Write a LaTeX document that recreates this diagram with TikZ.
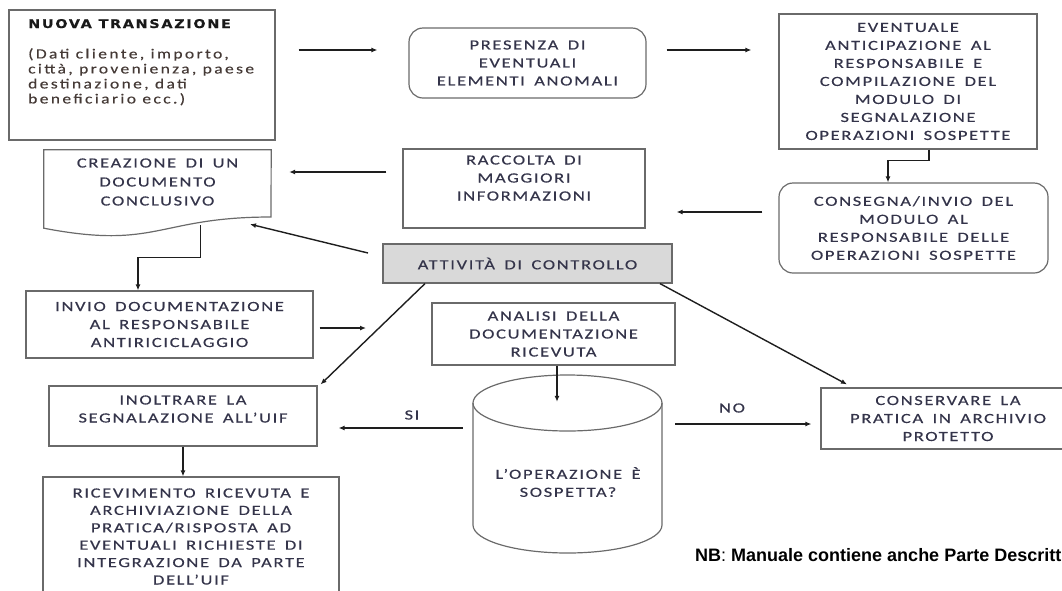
\documentclass[tikz,border=0pt]{standalone}
\usepackage{fontspec}
\usetikzlibrary{arrows.meta,calc}

% Fonts: wide, tracked Calibri-like face for the boxes
\newfontfamily\boxfont[FakeStretch=1.32,LetterSpace=12,WordSpace=1.6,FakeBold=0.4]{Carlito}
\newfontfamily\bodyfont[FakeStretch=1.25,LetterSpace=17,FakeBold=0.4]{Carlito}
\newfontfamily\titlefont[FakeStretch=1.2,LetterSpace=14,FakeBold=0.3]{DejaVu Sans}
\newfontfamily\nbfont{Liberation Sans}

\definecolor{txt}{HTML}{34344A}
\definecolor{bodytxt}{HTML}{453A36}
\definecolor{edge}{HTML}{6A6A6A}
\definecolor{wirecol}{HTML}{1E1E1E}
\definecolor{shade}{HTML}{D9D9D9}

\tikzset{
  box/.style={draw=edge, line width=1.2pt, rectangle, inner sep=0pt, align=center,
    text=txt, font=\boxfont\fontsize{14}{18}\selectfont},
  rbox/.style={box, rounded corners=14pt},
  lbl/.style={inner sep=0pt, align=center, text=txt, font=\boxfont\fontsize{14}{18}\selectfont},
  outline/.style={draw=edge, line width=1.2pt},
  conn/.style={draw=wirecol, line width=1.4pt, -{Latex[length=6pt,width=5pt]}},
}

\begin{document}
\begin{tikzpicture}[x=1pt, y=-1pt]
\useasboundingbox (0,0) rectangle (1062,590);
\clip (0,0) rectangle (1062,590);

% ---- first row -------------------------------------------------------
\node[box, minimum width=266pt, minimum height=130pt] (nuova) at (142,75) {};
\node[anchor=base west, inner sep=0pt, text=black!90,
      font=\titlefont\bfseries\fontsize{12}{12}\selectfont] (nuovaT) at (28,28) {NUOVA TRANSAZIONE};
\node[anchor=north west, inner sep=0pt, align=left, text=bodytxt,
      font=\bodyfont\fontsize{14}{15}\selectfont] (nuovaB) at (28,48)
      {(Dati cliente, importo,\\città, provenienza, paese\\destinazione, dati\\beneficiario ecc.)};

\node[rbox, minimum width=237pt, minimum height=70pt] (presenza) at (527.5,63)
  {PRESENZA DI\\EVENTUALI\\ELEMENTI ANOMALI};

\node[box, minimum width=258pt, minimum height=135pt] (anticip) at (908,81.5)
  {EVENTUALE\\ANTICIPAZIONE AL\\RESPONSABILE E\\COMPILAZIONE DEL\\MODULO DI\\SEGNALAZIONE\\OPERAZIONI SOSPETTE};

% ---- second row ------------------------------------------------------
\node[rbox, minimum width=269pt, minimum height=90pt] (consegna) at (913.5,228)
  {CONSEGNA/INVIO DEL\\MODULO AL\\RESPONSABILE DELLE\\OPERAZIONI SOSPETTE};

\node[box, minimum width=242pt, minimum height=79pt] (raccolta) at (524,188.5) {};
\node[lbl] (raccoltaT) at (524,178) {RACCOLTA DI\\MAGGIORI\\INFORMAZIONI};

% document shape with a wavy lower edge
\node[minimum width=227pt, minimum height=78pt, inner sep=0pt] (doc) at (157.5,189) {};
\draw[outline] (doc.south west) -- (doc.north west) -- (doc.north east) -- (271,217)
  .. controls (157.5,217) and (157.5,250) .. (doc.south west) -- cycle;
\node[lbl, font=\boxfont\fontsize{14}{19}\selectfont] (docT) at (157.5,182) {CREAZIONE DI UN\\DOCUMENTO\\CONCLUSIVO};

% ---- control row -----------------------------------------------------
\node[box, fill=shade, minimum width=289pt, minimum height=39pt] (att) at (527.5,263.5) {ATTIVITÀ DI CONTROLLO};

\node[box, minimum width=287pt, minimum height=67pt] (invio) at (169.5,324.5)
  {INVIO DOCUMENTAZIONE\\AL RESPONSABILE\\ANTIRICICLAGGIO};

\node[box, minimum width=243pt, minimum height=62pt] (analisi) at (553.5,334)
  {ANALISI DELLA\\DOCUMENTAZIONE\\RICEVUTA};

% ---- decision cylinder -----------------------------------------------
\node[minimum width=189pt, minimum height=178pt, inner sep=0pt] (cyl) at (567.5,464) {};
\draw[outline] (473,403) -- (473,525) arc[start angle=180, end angle=360, x radius=94.5pt, y radius=28pt] -- (662,403);
\draw[outline] (567.5,403) ellipse [x radius=94.5pt, y radius=28pt];
\node[lbl] (cylT) at (568,482) {L’OPERAZIONE È\\SOSPETTA?};

% ---- outcomes ---------------------------------------------------------
\node[box, minimum width=268pt, minimum height=60pt] (inol) at (183,416) {};
\node[lbl] (inolT) at (183,409) {INOLTRARE LA\\SEGNALAZIONE ALL’UIF};

\node[box, minimum width=296pt, minimum height=125pt] (ricev) at (191,539.5) {};
\node[lbl, font=\boxfont\fontsize{14}{17.4}\selectfont] (ricevT) at (191,536.5)
  {RICEVIMENTO RICEVUTA E\\ARCHIVIAZIONE DELLA\\PRATICA/RISPOSTA AD\\EVENTUALI RICHIESTE DI\\INTEGRAZIONE DA PARTE\\DELL’UIF};

\node[box, minimum width=254pt, minimum height=61pt] (cons) at (948,418.5)
  {CONSERVARE LA\\PRATICA IN ARCHIVIO\\PROTETTO};

\node[lbl] (si) at (412,415) {SI};
\node[lbl] (no) at (732,408) {NO};

\node[anchor=base west, inner sep=0pt, font=\nbfont\fontsize{18}{20}\selectfont] (nb) at (695,561)
  {\bfseries NB\mdseries: \bfseries Manuale contiene anche Parte Descrittiva};

% ---- connectors -------------------------------------------------------
\draw[conn, shorten <=23pt, shorten >=31pt] ([yshift=25pt]nuova.east) -- ([yshift=13pt]presenza.west);
\draw[conn, shorten <=20pt, shorten >=27pt] ([yshift=13pt]presenza.east) -- ([yshift=31.5pt]anticip.west);
\draw[conn] ([xshift=21pt]anticip.south) -- ++(0,-11pt) -| ([xshift=-25.5pt]consegna.north);
\draw[conn, shorten <=16pt, shorten >=31pt] ([yshift=16pt]consegna.west) -- ([yshift=-23.5pt]raccolta.east);
\draw[conn, shorten <=16pt, shorten >=18pt] ([yshift=16.5pt]raccolta.west) -- ([yshift=17pt]doc.east);
\draw[conn] ([xshift=43pt,yshift=3pt]doc.south) -- ++(0,-32pt) -| ([xshift=-31.5pt]invio.north);
\coordinate (invioTip) at (366,328);
\draw[conn, shorten <=6pt] ([yshift=-3.5pt]invio.east) -- (invioTip);
\coordinate (attTail) at (368,253);
\draw[conn] (attTail) -- ([xshift=92.5pt,yshift=4pt]doc.south);
\draw[conn] ([xshift=-102.5pt]att.south) -- ([xshift=3pt,yshift=1pt]inol.north east);
\draw[conn] ([xshift=132.5pt]att.south) -- ([xshift=-101pt,yshift=3pt]cons.north);
\draw[conn] ([xshift=3.5pt]analisi.south) -- ([xshift=-10.5pt,yshift=-27pt]cyl.north);
\draw[conn, shorten <=10pt, shorten >=21pt] ([yshift=36pt]cyl.west) -- ([yshift=-12pt]inol.east);
\draw[conn, shorten <=13pt, shorten >=9pt] ([yshift=40pt]cyl.east) -- ([yshift=-5.5pt]cons.west);
\draw[conn] (inol.south) -- (inol.south |- ricev.north);
\end{tikzpicture}
\end{document}
